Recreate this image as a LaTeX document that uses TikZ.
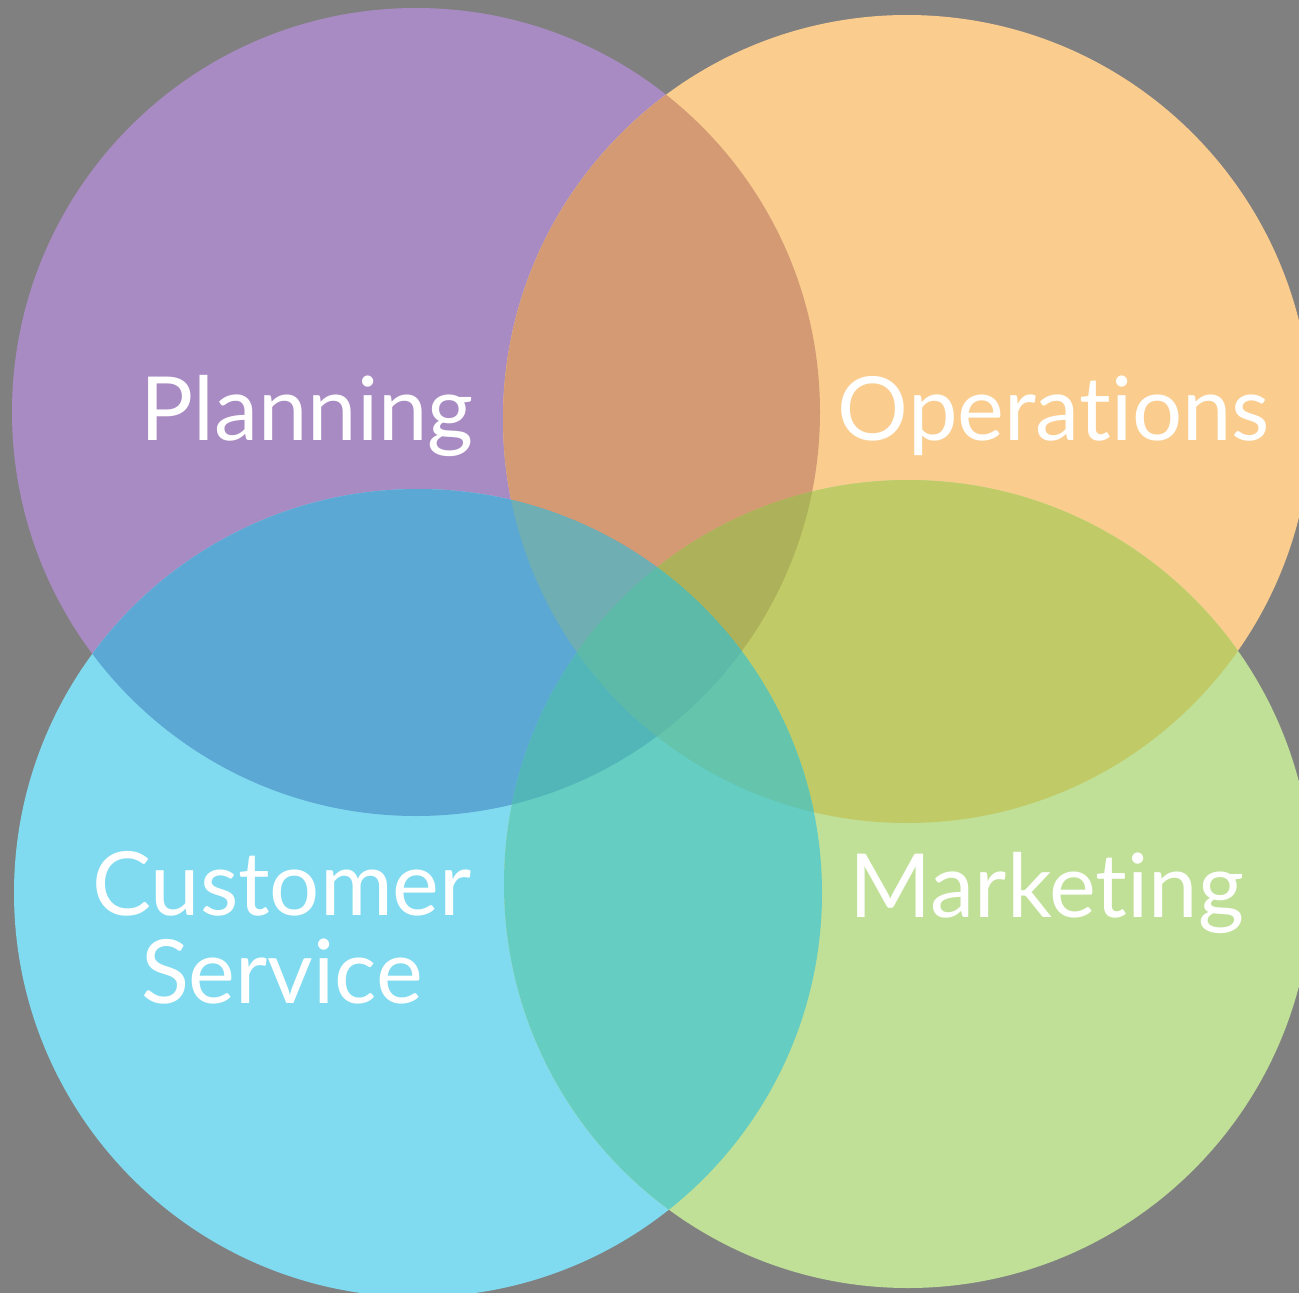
\documentclass[tikz,border=0pt]{standalone}
\usepackage{fontspec}
\setmainfont[Ligatures={NoCommon}]{Lato}
\definecolor{bg}{HTML}{808080}
\definecolor{cP}{HTML}{A98BC3}
\definecolor{cO}{HTML}{FACD8F}
\definecolor{cB}{HTML}{80DBF0}
\definecolor{cG}{HTML}{C0E097}
\definecolor{cPO}{HTML}{D39A74}
\definecolor{cPB}{HTML}{5CA8D4}
\definecolor{cOG}{HTML}{C0CA66}
\definecolor{cBG}{HTML}{66CDC2}
\definecolor{cPOB}{HTML}{6FAFB3}
\definecolor{cPOG}{HTML}{ADB25A}
\definecolor{cPBG}{HTML}{52B5B8}
\definecolor{cOBG}{HTML}{64C4AC}
\definecolor{cALL}{HTML}{5DBAA8}
\begin{document}
\begin{tikzpicture}[x=1pt,y=-1pt,
  lbl/.style={text=white,font=\fontsize{88.5}{92}\selectfont,inner sep=0pt,anchor=base}]
\fill[bg] (0,0) rectangle (1299,1293);
\useasboundingbox (0,0) rectangle (1299,1293);
\coordinate (p) at (416,412);
\coordinate (o) at (907,419);
\coordinate (b) at (418,893);
\coordinate (g) at (908,884);
\def\Rr{404pt}
% base circles
\fill[cP] (p) circle[radius=\Rr];
\fill[cO] (o) circle[radius=\Rr];
\fill[cB] (b) circle[radius=\Rr];
\fill[cG] (g) circle[radius=\Rr];
% pairs
\begin{scope}\clip (p) circle[radius=\Rr]; \fill[cPO] (o) circle[radius=\Rr]; \end{scope}
\begin{scope}\clip (p) circle[radius=\Rr]; \fill[cPB] (b) circle[radius=\Rr]; \end{scope}
\begin{scope}\clip (o) circle[radius=\Rr]; \fill[cOG] (g) circle[radius=\Rr]; \end{scope}
\begin{scope}\clip (b) circle[radius=\Rr]; \fill[cBG] (g) circle[radius=\Rr]; \end{scope}
% triples
\begin{scope}\clip (p) circle[radius=\Rr]; \clip (o) circle[radius=\Rr]; \fill[cPOB] (b) circle[radius=\Rr]; \end{scope}
\begin{scope}\clip (p) circle[radius=\Rr]; \clip (o) circle[radius=\Rr]; \fill[cPOG] (g) circle[radius=\Rr]; \end{scope}
\begin{scope}\clip (p) circle[radius=\Rr]; \clip (b) circle[radius=\Rr]; \fill[cPBG] (g) circle[radius=\Rr]; \end{scope}
\begin{scope}\clip (o) circle[radius=\Rr]; \clip (b) circle[radius=\Rr]; \fill[cOBG] (g) circle[radius=\Rr]; \end{scope}
% all four
\begin{scope}\clip (p) circle[radius=\Rr]; \clip (o) circle[radius=\Rr]; \clip (b) circle[radius=\Rr]; \fill[cALL] (g) circle[radius=\Rr]; \end{scope}
% labels
\node[lbl] (planning) at (307,440) {Planning};
\node[lbl] (operations) at (1054,440) {Operations};
\node[lbl] (customer) at (282,915) {Customer};
\node[lbl] (service) at (282,1003) {Service};
\node[lbl] (marketing) at (1047,917) {Marketing};
\end{tikzpicture}
\end{document}
